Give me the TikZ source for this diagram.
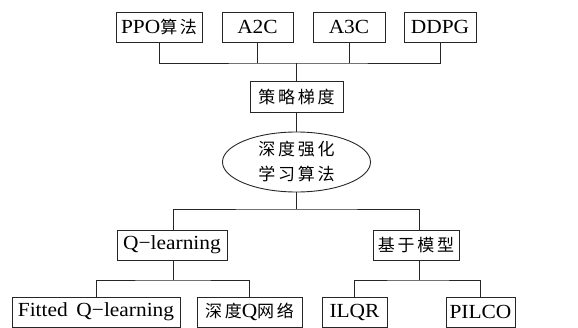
\documentclass[tikz,border=0pt]{standalone}
\usepackage{fontspec}
\setmainfont[FakeStretch=1.07]{Liberation Serif}
\newfontfamily\cjk[LetterSpace=16]{Noto Sans CJK SC}
\usetikzlibrary{shapes.geometric}
\newcommand{\cjkt}[1]{{\fontsize{17}{21}\cjk #1}}
\begin{document}
\begin{tikzpicture}[x=1pt,y=-1pt,
  box/.style={draw=black!85,line width=0.9pt,inner sep=0pt,minimum height=30pt,font=\fontsize{20}{24}\selectfont},
  conn/.style={draw=black!85,line width=0.9pt}]
\useasboundingbox (0,0) rectangle (578,327);
\node[box,minimum width=86pt] (ppo) at (159,27) {PPO\cjkt{算法}};
\node[box,minimum width=71pt] (a2c) at (257.5,27) {A2C};
\node[box,minimum width=72pt] (a3c) at (349,27) {A3C};
\node[box,minimum width=72pt] (ddpg) at (440,27) {DDPG};
\node[box,minimum width=93pt,minimum height=31pt] (pg) at (296.5,96.5) {\cjkt{策略梯度}};
\node[box,ellipse,minimum width=148pt,minimum height=60pt,align=center,font=\fontsize{17}{25}\selectfont] (drl) at (296.5,162) {\cjk 深度强化\\\cjk 学习算法};
\node[box,minimum width=110pt] (ql) at (172,245) {Q−learning};
\node[box,minimum width=86pt] (mb) at (416,245) {\cjkt{基于模型}};
\node[box,minimum width=168pt] (fit) at (96,312) {Fitted\, Q−learning};
\node[box,minimum width=105pt] (dqn) at (249.5,312) {\cjkt{深度}Q\cjkt{网络}};
\node[box,minimum width=65pt] (ilqr) at (354.5,312) {ILQR};
\node[box,minimum width=69pt] (pilco) at (480.5,312) {PILCO};
\coordinate (j1) at (296.5,63);
\coordinate (j2) at (296.5,209);
\coordinate (j3) at (173,280);
\coordinate (j4) at (419,280);
\draw[conn] (ppo.south) |- (j1) -| (ddpg.south);
\draw[conn] (a2c.south) -- (a2c.south |- j1);
\draw[conn] (a3c.south) -- (a3c.south |- j1);
\draw[conn] (j1) -- (pg.north);
\draw[conn] (pg.south) -- (drl.north);
\draw[conn] (drl.south) -- (j2);
\draw[conn] (j3 |- ql.north) |- (j2) -| (j4 |- mb.north);
\draw[conn] (j3 |- ql.south) -- (j3);
\draw[conn] (fit.north) |- (j3) -| (dqn.north);
\draw[conn] (j4 |- mb.south) -- (j4);
\draw[conn] (ilqr.north) |- (j4) -| (pilco.north);
\end{tikzpicture}
\end{document}
